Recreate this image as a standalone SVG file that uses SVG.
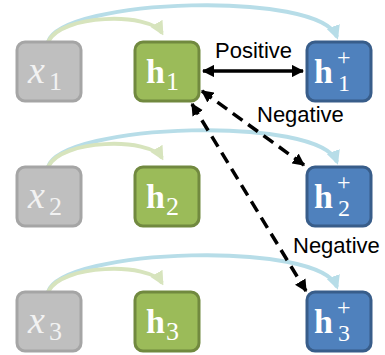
<svg xmlns="http://www.w3.org/2000/svg" width="385" height="355" viewBox="0 0 385 355">
<defs>
<style>
.bx{fill:#bfbfbf;stroke:#a5a5a5;stroke-width:3}
.bh{fill:#9bbb59;stroke:#71893f;stroke-width:3}
.bp{fill:#4f81bd;stroke:#385d8a;stroke-width:3}
.xt{font-family:"Liberation Serif",serif;font-size:38px;fill:#f2f2f2}
.ht{font-family:"Liberation Serif",serif;font-size:34px;fill:#ffffff}
.it{font-style:italic}
.bd{font-weight:bold}
.sb{font-size:26px;font-style:normal;font-weight:normal}
.sp{font-size:24px;font-style:normal;font-weight:normal}
.lb{font-family:"Liberation Sans",Arial,sans-serif;font-size:22px;fill:#000}
.ab{fill:none;stroke:#b7dde8;stroke-width:4}
.ag{fill:none;stroke:#d7e4bd;stroke-width:4}
.ak{fill:none;stroke:#000;stroke-width:3.5}
.dk{fill:none;stroke:#000;stroke-width:3.5;stroke-dasharray:12 7}
</style>
<marker id="mb" viewBox="0 0 10 10" refX="8" refY="5" markerWidth="3.5" markerHeight="3.5" orient="auto"><path d="M0,0 L10,5 L0,10 Z" fill="#b7dde8"/></marker>
<marker id="mg" viewBox="0 0 10 10" refX="8" refY="5" markerWidth="3.5" markerHeight="3.5" orient="auto"><path d="M0,0 L10,5 L0,10 Z" fill="#d7e4bd"/></marker>
<marker id="mk" viewBox="0 0 10 10" refX="9" refY="5" markerWidth="3.5" markerHeight="3.5" orient="auto-start-reverse"><path d="M0,0 L10,5 L0,10 Z" fill="#000"/></marker>
</defs>
<g id="connectors">
<path class="ab" d="M48,42 C62,-2 320,-10 337,37" marker-end="url(#mb)"/>
<path class="ag" d="M48,42 C60,14 150,12 162,33" marker-end="url(#mg)"/>
<path class="ab" d="M48,167 C62,123 320,115 337,162" marker-end="url(#mb)"/>
<path class="ag" d="M48,167 C60,139 150,137 162,158" marker-end="url(#mg)"/>
<path class="ab" d="M48,292 C62,248 320,240 337,287" marker-end="url(#mb)"/>
<path class="ag" d="M48,292 C60,264 150,262 162,283" marker-end="url(#mg)"/>
<line class="ak" x1="203" y1="71" x2="303" y2="71" marker-start="url(#mk)" marker-end="url(#mk)"/>
<line class="dk" x1="202" y1="91" x2="304" y2="165" marker-start="url(#mk)" marker-end="url(#mk)"/>
<line class="dk" x1="192" y1="104" x2="306" y2="291" marker-start="url(#mk)" marker-end="url(#mk)"/>
<text class="lb" x="215" y="58">Positive</text>
<text class="lb" x="257" y="122">Negative</text>
<text class="lb" x="293" y="253">Negative</text>
</g>
<g id="x1"><rect class="bx" x="17" y="42" width="64" height="59" rx="8"/><text class="xt it" x="28" y="83">x<tspan class="sb" x="49" y="90">1</tspan></text></g>
<g id="h1"><rect class="bh" x="135" y="42" width="64" height="59" rx="8"/><text class="ht bd" x="146" y="83">h<tspan class="sb" x="166" y="90">1</tspan></text></g>
<g id="h1p"><rect class="bp" x="307" y="42" width="64" height="59" rx="8"/><text class="ht bd" x="314" y="83">h<tspan class="sp" x="337" y="65">+</tspan><tspan class="sp" x="338" y="91">1</tspan></text></g>
<g id="x2"><rect class="bx" x="17" y="167" width="64" height="59" rx="8"/><text class="xt it" x="28" y="208">x<tspan class="sb" x="49" y="215">2</tspan></text></g>
<g id="h2"><rect class="bh" x="135" y="167" width="64" height="59" rx="8"/><text class="ht bd" x="146" y="208">h<tspan class="sb" x="166" y="215">2</tspan></text></g>
<g id="h2p"><rect class="bp" x="307" y="167" width="64" height="59" rx="8"/><text class="ht bd" x="314" y="208">h<tspan class="sp" x="337" y="190">+</tspan><tspan class="sp" x="338" y="216">2</tspan></text></g>
<g id="x3"><rect class="bx" x="17" y="292" width="64" height="59" rx="8"/><text class="xt it" x="28" y="333">x<tspan class="sb" x="49" y="340">3</tspan></text></g>
<g id="h3"><rect class="bh" x="135" y="292" width="64" height="59" rx="8"/><text class="ht bd" x="146" y="333">h<tspan class="sb" x="166" y="340">3</tspan></text></g>
<g id="h3p"><rect class="bp" x="307" y="292" width="64" height="59" rx="8"/><text class="ht bd" x="314" y="333">h<tspan class="sp" x="337" y="315">+</tspan><tspan class="sp" x="338" y="341">3</tspan></text></g>
</svg>
